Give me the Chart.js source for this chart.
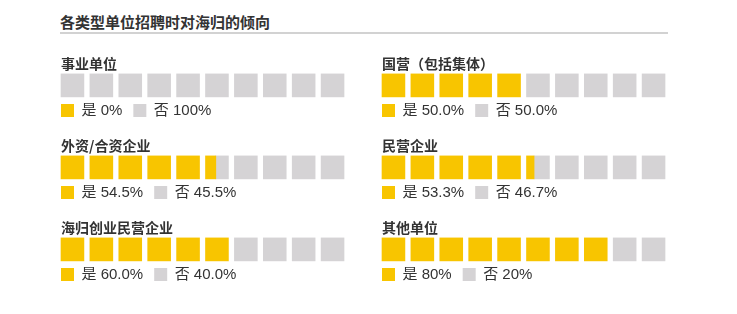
<!DOCTYPE html>
<html>
<head>
<meta charset="utf-8">
<script src="https://cdn.jsdelivr.net/npm/chart.js@4.4.1/dist/chart.umd.min.js"></script>
<style>
  html, body { margin: 0; padding: 0; background: #fff; }
  body { width: 737px; height: 314px; position: relative; overflow: hidden; font-family: 'Noto Sans CJK SC', sans-serif; }
  #title { position: absolute; left: 60px; top: 11px; font-size: 15px; font-weight: bold; color: #333; line-height: 22px; }
  #rule { position: absolute; left: 60px; top: 32px; width: 608px; height: 2px; background: #d2d2d2; }
  .panel { position: absolute; width: 300px; height: 76px; }
</style>
</head>
<body>
<div id="title">各类型单位招聘时对海归的倾向</div>
<div id="rule"></div>
<div class="panel" style="left:50px;top:52px"><canvas id="c0"></canvas></div>
<div class="panel" style="left:371px;top:52px"><canvas id="c1"></canvas></div>
<div class="panel" style="left:50px;top:134px"><canvas id="c2"></canvas></div>
<div class="panel" style="left:371px;top:134px"><canvas id="c3"></canvas></div>
<div class="panel" style="left:50px;top:216px"><canvas id="c4"></canvas></div>
<div class="panel" style="left:371px;top:216px"><canvas id="c5"></canvas></div>
<script>
  // data
  const categories = ['事业单位', '国营（包括集体）', '外资/合资企业', '民营企业', '海归创业民营企业', '其他单位'];
  const seriesNames = ['是', '否'];
  const yesShare = [0, 50.0, 54.5, 53.3, 60.0, 80];
  const noShare = [100, 50.0, 45.5, 46.7, 40.0, 20];
  const yesText = ['0%', '50.0%', '54.5%', '53.3%', '60.0%', '80%'];
  const noText = ['100%', '50.0%', '45.5%', '46.7%', '40.0%', '20%'];
  const squareCount = 10;

  const YELLOW = '#F8C500';
  const GREY = '#D5D3D5';
  const TEXT = '#333333';
  const SQ = 23 / 29;   // square width in scale units (pitch = 1)
  const PAD = 11;       // legend label padding, also left offset

  const clamp01 = v => Math.max(0, Math.min(1, v));

  function buildDatasets(k) {
    const sets = [];
    const perSquare = 100 / squareCount;
    for (let i = 0; i < squareCount; i++) {
      const yesFill = clamp01(yesShare[k] / perSquare - i);
      const noFill = clamp01(noShare[k] / perSquare - (squareCount - 1 - i));
      if (yesFill > 0) {
        sets.push({ label: seriesNames[0], data: [[i, i + SQ * yesFill]], backgroundColor: YELLOW });
      }
      if (noFill > 0) {
        sets.push({ label: seriesNames[1], data: [[i + SQ * (1 - noFill), i + SQ]], backgroundColor: GREY });
      }
    }
    sets.forEach(s => {
      s.grouped = false;
      s.barThickness = 23;
      s.borderWidth = 0;
      s.clip = false;
    });
    return sets;
  }

  categories.forEach((name, k) => {
    const ctx = document.getElementById('c' + k).getContext('2d');
    new Chart(ctx, {
      type: 'bar',
      data: { labels: [name], datasets: buildDatasets(k) },
      options: {
        indexAxis: 'y',
        responsive: true,
        maintainAspectRatio: false,
        animation: false,
        events: [],
        layout: { padding: 0 },
        scales: {
          x: { type: 'linear', min: 0, max: squareCount, display: false },
          y: {
            display: true,
            grid: { display: false },
            border: { display: false },
            ticks: { display: false },
            afterFit: (scale) => { scale.width = PAD; }
          }
        },
        plugins: {
          tooltip: { enabled: false },
          title: {
            display: true,
            text: name,
            align: 'start',
            fullSize: false,
            color: TEXT,
            font: { family: "'Noto Sans CJK SC', sans-serif", size: 14, weight: 'bold' },
            padding: { top: 3, bottom: 7 }
          },
          legend: {
            position: 'bottom',
            align: 'start',
            labels: {
              boxWidth: 13,
              boxHeight: 13,
              padding: PAD,
              color: TEXT,
              font: { family: "'Liberation Sans', 'Noto Sans CJK SC', sans-serif", size: 15 },
              generateLabels: () => [
                { text: seriesNames[0] + ' ' + yesText[k], fillStyle: YELLOW, strokeStyle: YELLOW, lineWidth: 0, fontColor: TEXT, hidden: false },
                { text: seriesNames[1] + ' ' + noText[k], fillStyle: GREY, strokeStyle: GREY, lineWidth: 0, fontColor: TEXT, hidden: false }
              ]
            }
          }
        }
      }
    });
  });
</script>
</body>
</html>
